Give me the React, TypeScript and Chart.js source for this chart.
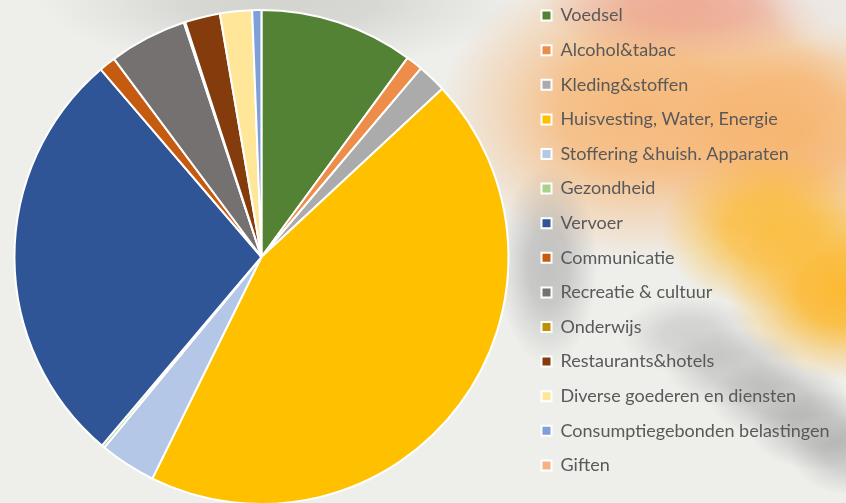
import React, { useEffect, useRef } from "react";
import { Chart, registerables } from "chart.js";

Chart.register(...registerables);

const categories = [
  "Voedsel",
  "Alcohol&tabac",
  "Kleding&stoffen",
  "Huisvesting, Water, Energie",
  "Stoffering &huish. Apparaten",
  "Gezondheid",
  "Vervoer",
  "Communicatie",
  "Recreatie & cultuur",
  "Onderwijs",
  "Restaurants&hotels",
  "Diverse goederen en diensten",
  "Consumptiegebonden belastingen",
  "Giften",
];

const shares = [10.1, 1.1, 1.9, 44.3, 3.7, 0.2, 27.6, 1.1, 5.1, 0.1, 2.3, 2.1, 0.6, 0];

const sliceColors = [
  "#548235",
  "#EE8C4A",
  "#ABABAB",
  "#FFC000",
  "#B4C7E7",
  "#A9D18E",
  "#2F5597",
  "#C55A11",
  "#767171",
  "#BF9000",
  "#843C0C",
  "#FFE699",
  "#7F9FD9",
  "#F4B183",
];

const blob = (w: number, h: number, x: number, y: number, rgb: string, a: number) =>
  `radial-gradient(ellipse ${w}px ${h}px at ${x}px ${y}px, rgba(${rgb},${a}) 0%, rgba(${rgb},${(a * 0.85).toFixed(3)}) 40%, rgba(${rgb},${(a * 0.4).toFixed(3)}) 70%, rgba(${rgb},0) 100%)`;

const background = [
  blob(80, 60, 846, 0, "236,232,228", 0.9),
  blob(150, 55, 690, 5, "236,156,134", 0.75),
  blob(50, 100, 548, 265, "150,150,150", 0.5),
  blob(70, 40, 690, 335, "155,155,155", 0.35),
  blob(70, 40, 735, 368, "150,150,150", 0.4),
  blob(70, 40, 780, 400, "145,145,145", 0.45),
  blob(70, 40, 820, 430, "145,145,145", 0.45),
  blob(60, 40, 850, 455, "150,150,150", 0.4),
  blob(110, 80, 770, 230, "252,188,58", 0.9),
  blob(120, 90, 846, 290, "252,184,48", 1),
  blob(200, 150, 640, 110, "247,180,112", 0.9),
  blob(150, 130, 790, 130, "248,176,100", 0.9),
  blob(240, 70, 280, 0, "205,205,200", 0.8),
  "#eeeeeb",
].join(", ");

const LEGEND_FONT = 18;
const LEGEND_PAD = 16.6;
const BOX = 10;

export default function App() {
  const ref = useRef<HTMLCanvasElement>(null);

  useEffect(() => {
    const mctx = document.createElement("canvas").getContext("2d") as CanvasRenderingContext2D;
    mctx.font = `normal ${LEGEND_FONT}px Lato`;
    const maxText = Math.max(...categories.map((c) => mctx.measureText(c).width));
    const canvasW = 848;
    const legendLeft = 541.5 + 2 - LEGEND_PAD;
    const legendW = LEGEND_PAD + BOX + LEGEND_FONT / 2 + maxText + 10;
    const padRight = canvasW - legendLeft - legendW;

    const chart = new Chart(ref.current as HTMLCanvasElement, {
      type: "pie",
      data: {
        labels: categories,
        datasets: [
          {
            data: shares,
            backgroundColor: sliceColors,
            borderColor: "#ffffff",
            borderWidth: 2,
            radius: 247,
          } as any,
        ],
      },
      options: {
        responsive: false,
        animation: false,
        layout: { padding: { left: 0, top: 0, bottom: 0, right: padRight } },
        plugins: {
          legend: {
            position: "right",
            align: "start",
            maxWidth: 420,
            labels: {
              boxWidth: BOX,
              boxHeight: BOX,
              padding: LEGEND_PAD,
              color: "#595959",
              font: { family: "Lato", size: LEGEND_FONT },
            },
          },
          tooltip: { enabled: false },
        },
      } as any,
    });
    return () => chart.destroy();
  }, []);

  return (
    <div
      style={{
        position: "fixed",
        left: 0,
        top: 0,
        width: 846,
        height: 503,
        overflow: "hidden",
        background,
      }}
    >
      <canvas
        ref={ref}
        width={848}
        height={534}
        style={{ position: "absolute", left: -2, top: -10, width: 848, height: 534 }}
      />
    </div>
  );
}
